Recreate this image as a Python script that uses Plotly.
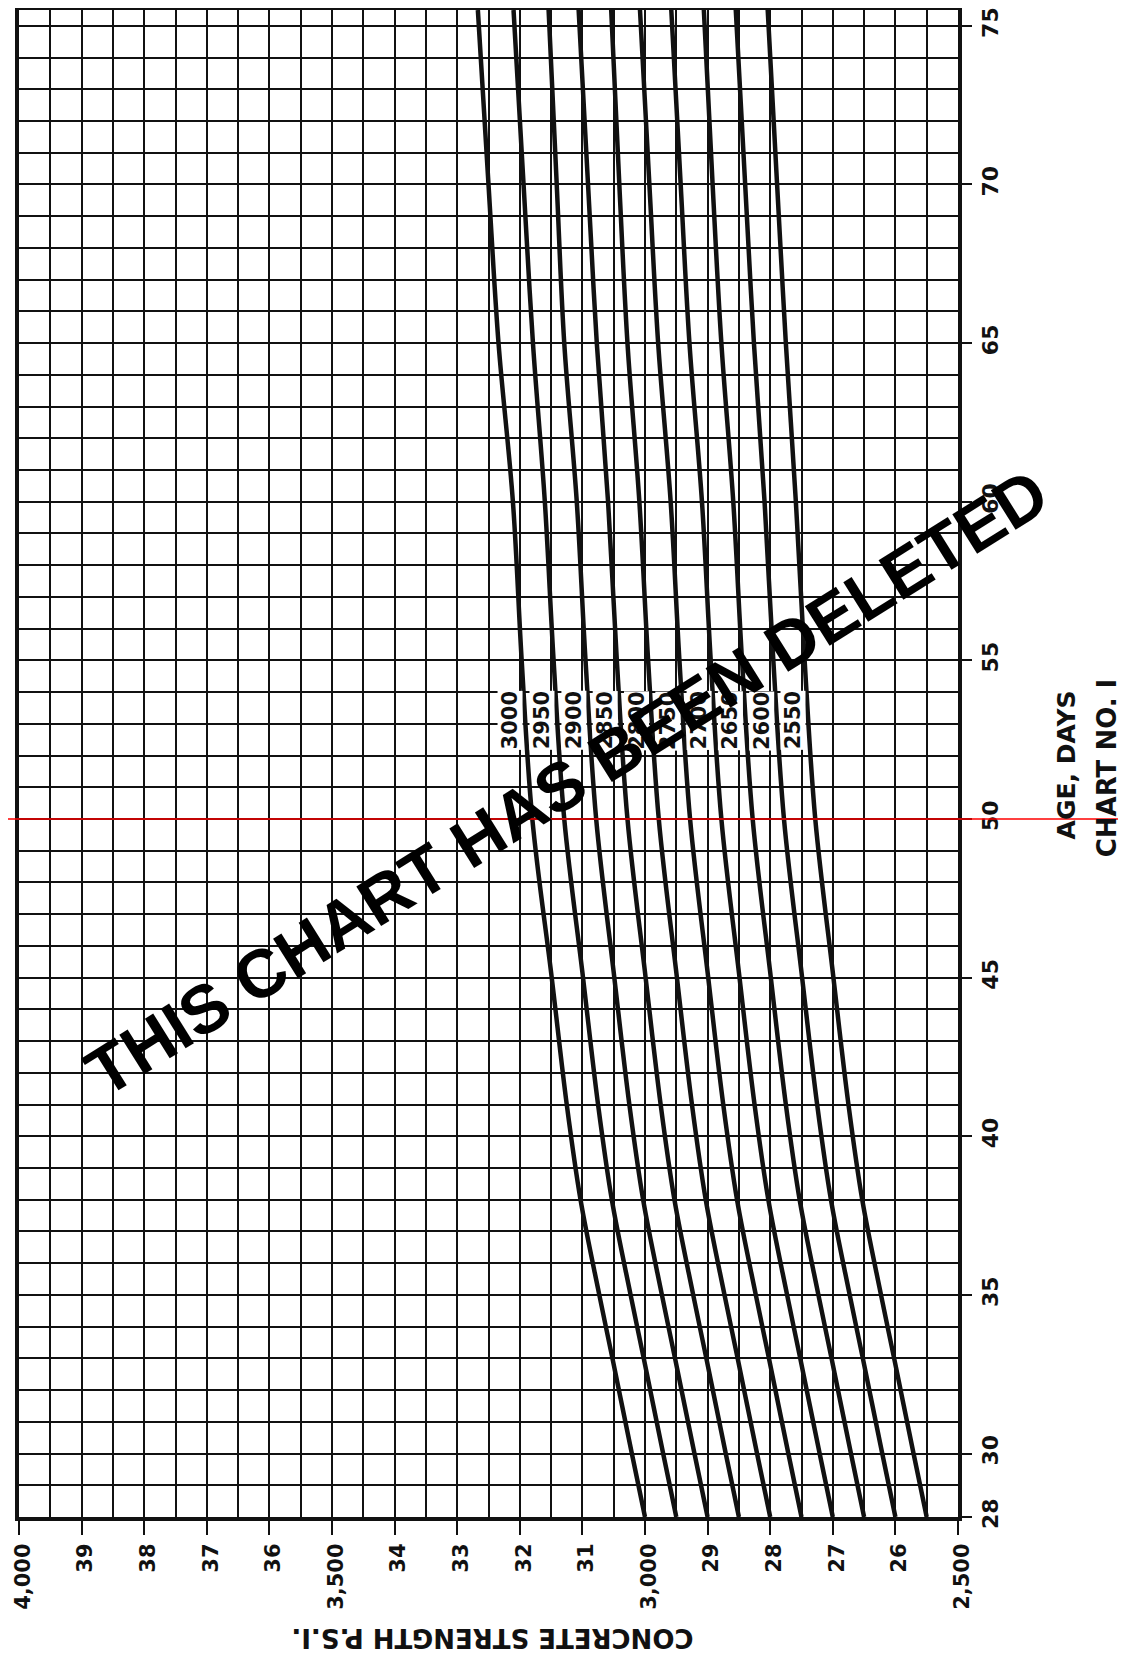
import numpy as np
import plotly.graph_objects as go

# ---------------- data ----------------
ages = [28, 30, 33, 35, 38, 41, 45, 50, 55, 60, 65, 70, 75.5]

curve_labels = ["3000", "2950", "2900", "2850", "2800", "2750", "2700", "2650", "2600", "2550"]
s3000 = [3000, 3021, 3052, 3073, 3103, 3125, 3149, 3180, 3197, 3211, 3234, 3250, 3267]
s2950 = [2950, 2971, 3002, 3023, 3053, 3075, 3099, 3129, 3146, 3160, 3179, 3194, 3210]
s2900 = [2900, 2921, 2952, 2973, 3003, 3025, 3049, 3078, 3095, 3109, 3129, 3141, 3154]
s2850 = [2850, 2871, 2902, 2923, 2953, 2975, 2999, 3028, 3045, 3059, 3077, 3091, 3106]
s2800 = [2800, 2821, 2852, 2873, 2903, 2925, 2949, 2978, 2995, 3009, 3028, 3041, 3054]
s2750 = [2750, 2771, 2802, 2823, 2853, 2875, 2899, 2928, 2945, 2959, 2979, 2993, 3008]
s2700 = [2700, 2721, 2752, 2773, 2803, 2825, 2849, 2878, 2895, 2909, 2929, 2943, 2958]
s2650 = [2650, 2671, 2702, 2723, 2753, 2775, 2799, 2828, 2845, 2859, 2878, 2892, 2906]
s2600 = [2600, 2621, 2652, 2673, 2703, 2725, 2749, 2778, 2795, 2809, 2826, 2840, 2855]
s2550 = [2550, 2571, 2602, 2623, 2653, 2675, 2699, 2728, 2745, 2759, 2775, 2789, 2804]
curves = [s3000, s2950, s2900, s2850, s2800, s2750, s2700, s2650, s2600, s2550]

strength_ticks = [4000, 3900, 3800, 3700, 3600, 3500, 3400, 3300, 3200, 3100,
                  3000, 2900, 2800, 2700, 2600, 2500]
strength_ticktext = ["4,000", "39", "38", "37", "36", "3,500", "34", "33", "32", "31",
                     "3,000", "29", "28", "27", "26", "2,500"]
age_ticks = [28, 30, 35, 40, 45, 50, 55, 60, 65, 70, 75]
age_ticktext = ["28", "30", "35", "40", "45", "50", "55", "60", "65", "70", "75"]

label_age = 53.1
red_line_age = 50
# --------------------------------------

INK = "#111111"
FONT = "DejaVu Sans"

fig = go.Figure()
for name, vals in zip(curve_labels, curves):
    fig.add_trace(go.Scatter(
        x=vals, y=ages, mode="lines", name=name,
        line=dict(color=INK, width=4.5, shape="spline", smoothing=1.0),
        showlegend=False, hoverinfo="skip"))

annotations = []
for name, vals in zip(curve_labels, curves):
    xv = float(np.interp(label_age, ages, vals))
    annotations.append(dict(
        x=xv, y=label_age, xref="x", yref="y", text=name, showarrow=False,
        textangle=-90, xshift=-16, bgcolor="white", borderpad=0,
        font=dict(family=FONT, size=21, color=INK, weight="bold")))

annotations += [
    dict(x=1.133, y=0.499, xref="paper", yref="paper", text="AGE, DAYS",
         showarrow=False, textangle=-90,
         font=dict(family=FONT, size=25, color=INK, weight="bold")),
    dict(x=1.177, y=0.497, xref="paper", yref="paper", text="CHART NO. I",
         showarrow=False, textangle=-90,
         font=dict(family=FONT, size=26, color=INK, weight="bold")),
    dict(x=0.504, y=-0.092, xref="paper", yref="paper",
         text="CONCRETE STRENGTH P.S.I.", showarrow=False, textangle=180,
         font=dict(family=FONT, size=26, color=INK, weight="bold")),
    dict(x=0.583, y=0.488, xref="paper", yref="paper",
         text="THIS CHART HAS BEEN DELETED", showarrow=False, textangle=-32,
         font=dict(family="Liberation Sans, Arial, sans-serif",
                   size=68, color="black", weight="bold")),
]

fig.add_shape(type="line", xref="paper", yref="y", x0=-0.03, x1=1.2,
              y0=red_line_age, y1=red_line_age,
              line=dict(color="#ff0000", width=1.6), layer="above")

fig.update_xaxes(
    range=[4000, 2500], tickmode="array", tickvals=strength_ticks,
    ticktext=strength_ticktext, tickangle=-90, automargin=False,
    ticklabeloverflow="allow", ticklabelshift=-4,
    tickfont=dict(family=FONT, size=21, color=INK, weight="bold"),
    ticks="outside", ticklen=14, tickwidth=2, tickcolor=INK,
    showgrid=True, gridcolor=INK, gridwidth=2,
    minor=dict(dtick=50, tick0=2500, showgrid=True, gridcolor=INK, gridwidth=2, ticks=""),
    showline=True, linecolor=INK, linewidth=4, mirror=True, zeroline=False,
)
fig.update_yaxes(
    range=[28, 75.5], side="right", tickmode="array", tickvals=age_ticks,
    ticktext=age_ticktext, tickangle=-90, automargin=False,
    ticklabeloverflow="allow",
    tickfont=dict(family=FONT, size=22, color=INK, weight="bold"),
    ticks="outside", ticklen=10, tickwidth=2, tickcolor=INK,
    showgrid=True, gridcolor=INK, gridwidth=2,
    minor=dict(dtick=1, tick0=28, showgrid=True, gridcolor=INK, gridwidth=2, ticks=""),
    showline=True, linecolor=INK, linewidth=4, mirror=True, zeroline=False,
)

# the page adds an 8px body margin, so the figure is sized/margined to compensate
fig.update_layout(
    width=1118, height=1646,
    margin=dict(l=11, r=168, t=2, b=137, autoexpand=False),
    paper_bgcolor="white", plot_bgcolor="white",
    annotations=annotations, showlegend=False,
)

fig.write_html("out.html")
